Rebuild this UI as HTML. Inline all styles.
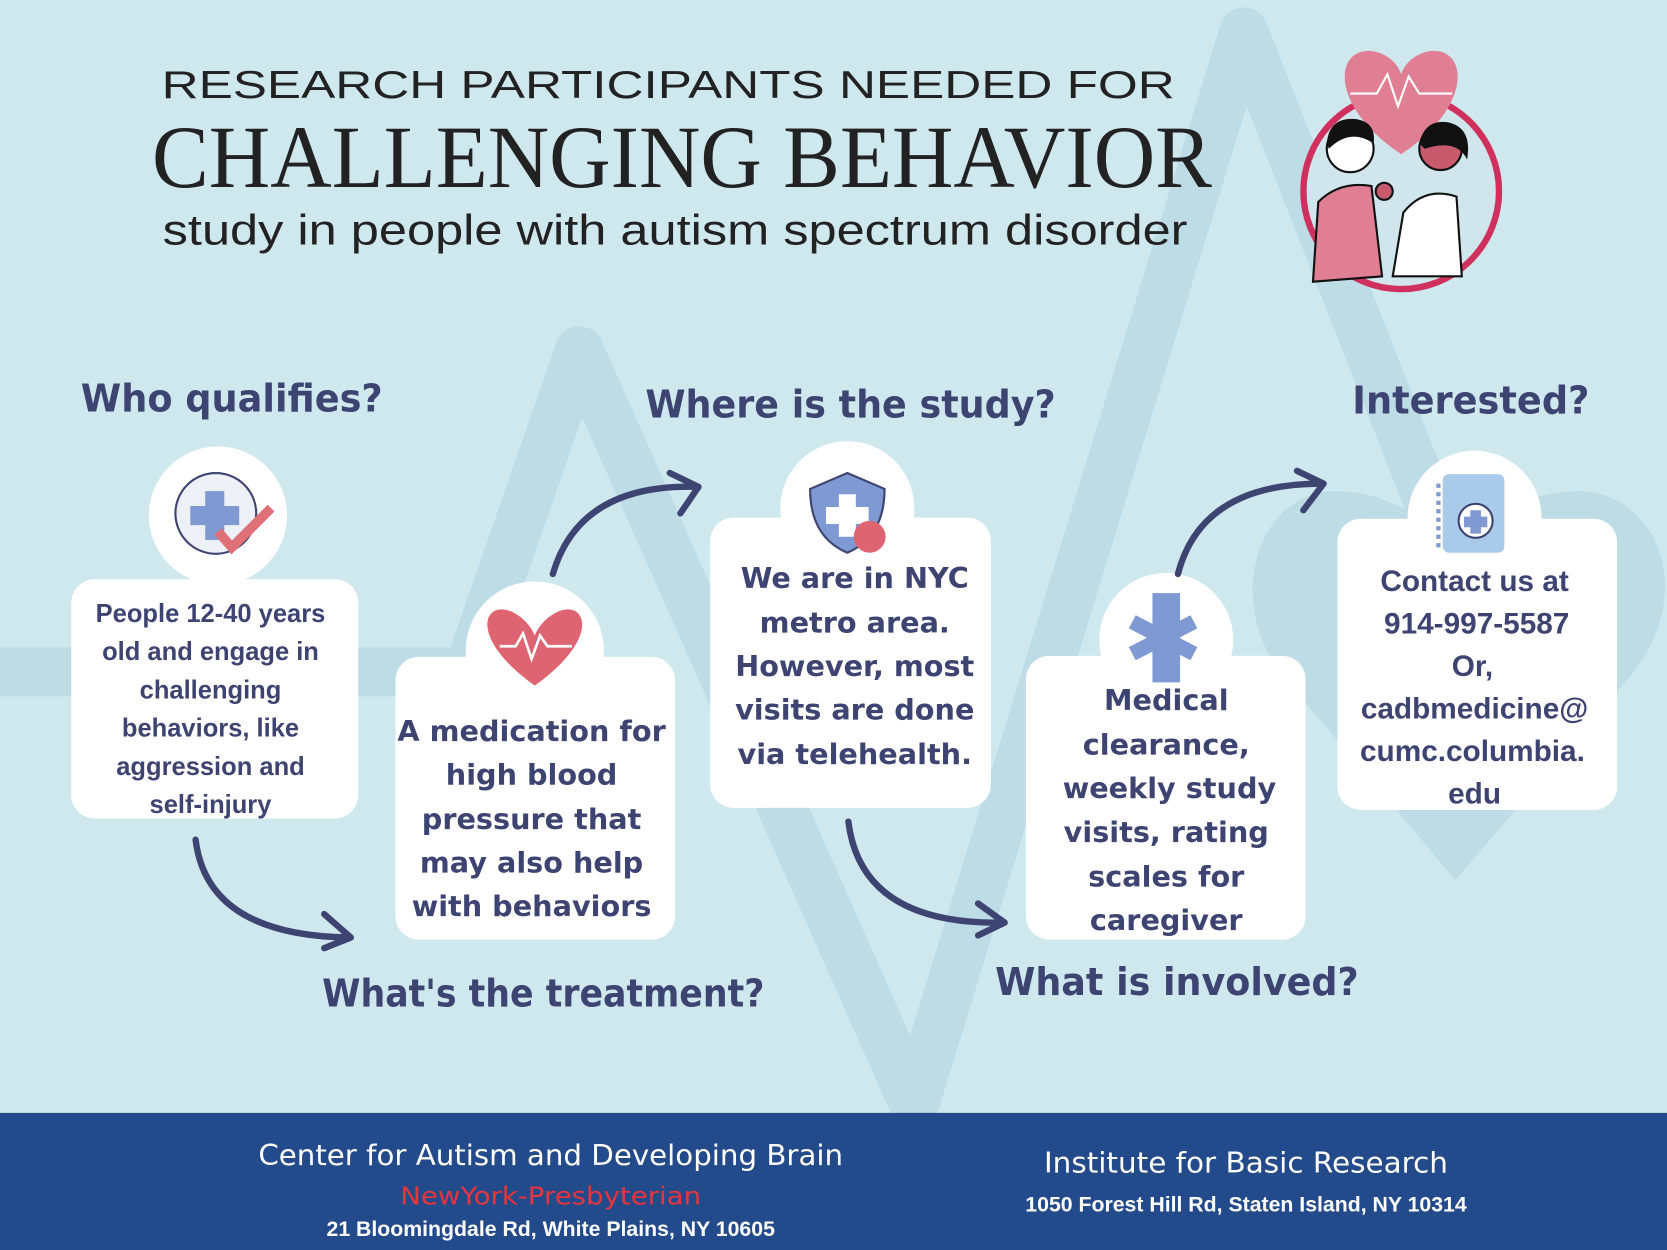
<!DOCTYPE html>
<html><head><meta charset="utf-8"><style>
html,body{margin:0;padding:0;background:#cfe8ee;}
svg{display:block}
</style></head><body>
<svg width="1667" height="1250" viewBox="0 0 1568 1176" preserveAspectRatio="none" xmlns="http://www.w3.org/2000/svg">
<rect width="1568" height="1176" fill="#cfe8ee"/>
<!-- background ECG -->
<g fill="none" stroke="#bddce6" stroke-width="46" stroke-linejoin="round" stroke-linecap="round">
<path d="M-20 632 L440 632 L545 330 L860 1040 L1170 30 L1370 540"/>
</g>
<path d="M1369 828 L1210 640 C1150 570 1180 460 1260 462 C1320 465 1355 500 1370 530 C1385 500 1420 465 1480 462 C1560 460 1600 560 1530 640 Z" fill="#bddce6"/>
<!-- header -->
<g font-family="Liberation Sans, sans-serif" fill="#222">
<text x="152" y="92" font-size="37" textLength="953" lengthAdjust="spacingAndGlyphs">RESEARCH PARTICIPANTS NEEDED FOR</text>
<text x="143" y="176" font-family="Liberation Serif, serif" font-size="84" textLength="997" lengthAdjust="spacingAndGlyphs">CHALLENGING BEHAVIOR</text>
<text x="153" y="230" font-size="40" textLength="964" lengthAdjust="spacingAndGlyphs">study in people with autism spectrum disorder</text>
</g>
<!-- illustration -->
<circle cx="1318" cy="180" r="92" fill="#d0e6ec" stroke="#d0305e" stroke-width="6"/>
<path d="M1318 145 C1250 100 1255 45 1290 48 C1305 50 1315 60 1318 70 C1321 60 1331 50 1346 48 C1381 45 1386 100 1318 145Z" fill="#e07f94"/>
<polyline points="1270,88 1295,88 1305,70 1315,100 1325,72 1335,88 1366,88" fill="none" stroke="#fff" stroke-width="2"/>
<path d="M1235 265 L1240 190 Q1260 170 1290 175 L1300 260 Z" fill="#e07f94" stroke="#111" stroke-width="2"/>
<circle cx="1270" cy="140" r="22" fill="#fff" stroke="#111" stroke-width="2"/>
<path d="M1248 135 Q1250 110 1275 112 Q1295 115 1292 135 Q1270 120 1250 140Z" fill="#111"/>
<path d="M1310 260 L1320 200 Q1340 175 1370 185 L1375 260Z" fill="#fff" stroke="#111" stroke-width="2"/>
<circle cx="1355" cy="140" r="20" fill="#c85a6e" stroke="#111" stroke-width="2"/>
<path d="M1335 135 Q1340 112 1362 115 Q1385 120 1380 150 Q1370 130 1340 140Z" fill="#111"/>
<circle cx="1302" cy="180" r="8" fill="#c85a6e" stroke="#111" stroke-width="2"/>
<!-- boxes -->
<g fill="#fff">
<rect x="67" y="545" width="270" height="225" rx="22"/><circle cx="205" cy="485" r="65"/>
<rect x="372" y="618" width="263" height="266" rx="22"/><circle cx="503" cy="612" r="65"/>
<rect x="668" y="487" width="264" height="273" rx="22"/><circle cx="797" cy="478" r="63"/>
<rect x="965" y="617" width="263" height="267" rx="22"/><circle cx="1097" cy="602" r="63"/>
<rect x="1258" y="488" width="263" height="274" rx="22"/><circle cx="1387" cy="487" r="63"/>
</g>
<!-- icons -->
<circle cx="203" cy="483" r="38" fill="#eef0f8" stroke="#3e4472" stroke-width="2"/>
<path d="M193 462h18v14h14v18h-14v14h-18v-14h-14v-18h14z" fill="#7f99d3"/>
<path d="M205 500 L218 515 L255 478" fill="none" stroke="#e07078" stroke-width="9"/>
<path d="M503 645 C440 600 455 565 480 575 C492 580 500 590 503 598 C506 590 514 580 526 575 C551 565 566 600 503 645Z" fill="#dd6470"/>
<polyline points="470,608 485,608 492,596 500,620 508,598 515,608 538,608" fill="none" stroke="#fff" stroke-width="2.5"/>
<path d="M797 445 L832 460 Q832 505 797 520 Q762 505 762 460Z" fill="#7f99d3" stroke="#3e4472" stroke-width="2"/>
<path d="M789 465h16v12h12v16h-12v12h-16v-12h-12v-16h12z" fill="#fff"/>
<circle cx="818" cy="505" r="15" fill="#dd6470"/>
<path d="M1091 565h12v70h-12z M1065 585l58 30 M1065 615l58-30" stroke="#7f99d3" stroke-width="14" fill="none"/>
<rect x="1357" y="446" width="58" height="74" rx="6" fill="#a9cbe9"/>
<path d="M1353 455v60" stroke="#7f99d3" stroke-width="4" stroke-dasharray="4 4"/>
<circle cx="1388" cy="490" r="16" fill="#fff" stroke="#3e4472" stroke-width="2"/>
<path d="M1383 480h10v6h6v10h-6v6h-10v-6h-6v-10h6z" fill="#7f99d3"/>
<!-- arrows -->
<g fill="none" stroke="#3e4472" stroke-width="6" stroke-linecap="round" stroke-linejoin="round">
<path d="M184 790 Q195 880 328 882"/><path d="M305 860 L330 882 L305 892"/>
<path d="M520 540 Q545 455 655 458"/><path d="M630 445 L657 458 L640 483"/>
<path d="M798 773 Q810 870 943 868"/><path d="M920 850 L945 868 L920 880"/>
<path d="M1108 540 Q1130 455 1243 455"/><path d="M1220 443 L1245 455 L1226 480"/>
</g>
<!-- headings -->
<g font-family="DejaVu Sans, sans-serif" font-weight="bold" fill="#3e4472">
<text x="76" y="387" font-size="36" textLength="284" lengthAdjust="spacingAndGlyphs">Who qualifies?</text>
<text x="607" y="393" font-size="36" textLength="386" lengthAdjust="spacingAndGlyphs">Where is the study?</text>
<text x="1272" y="389" font-size="36" textLength="223" lengthAdjust="spacingAndGlyphs">Interested?</text>
<text x="303" y="947" font-size="36" textLength="416" lengthAdjust="spacingAndGlyphs">What's the treatment?</text>
<text x="936" y="936" font-size="36" textLength="342" lengthAdjust="spacingAndGlyphs">What is involved?</text>
</g>
<g font-family="DejaVu Sans, sans-serif" font-weight="bold" fill="#3e4472" text-anchor="middle">
<g font-family="Liberation Sans, sans-serif" font-size="24">
<text x="198" y="585">People 12-40 years</text>
<text x="198" y="621">old and engage in</text>
<text x="198" y="657">challenging</text>
<text x="198" y="693">behaviors, like</text>
<text x="198" y="729">aggression and</text>
<text x="198" y="765">self-injury</text>
</g>
<g font-size="27">
<text x="500" y="697">A medication for</text>
<text x="500" y="738">high blood</text>
<text x="500" y="780">pressure that</text>
<text x="500" y="821">may also help</text>
<text x="500" y="862">with behaviors</text>
<text x="804" y="553">We are in NYC</text>
<text x="804" y="595">metro area.</text>
<text x="804" y="636">However, most</text>
<text x="804" y="677">visits are done</text>
<text x="804" y="719">via telehealth.</text>
<text x="1097" y="668">Medical</text>
<text x="1097" y="710">clearance,</text>
<text x="1100" y="751">weekly study</text>
<text x="1097" y="792">visits, rating</text>
<text x="1097" y="834">scales for</text>
<text x="1097" y="875">caregiver</text>
</g>
<g font-family="Liberation Sans, sans-serif" font-size="28">
<text x="1387" y="556">Contact us at</text>
<text x="1389" y="596">914-997-5587</text>
<text x="1385" y="636">Or,</text>
<text x="1387" y="676">cadbmedicine@</text>
<text x="1385" y="716">cumc.columbia.</text>
<text x="1387" y="756">edu</text>
</g>
</g>
<!-- footer -->
<rect x="0" y="1047" width="1568" height="129" fill="#234a8a"/>
<g font-family="DejaVu Sans, sans-serif" text-anchor="middle" fill="#fff">
<text x="518" y="1096" font-size="27" textLength="550" lengthAdjust="spacingAndGlyphs">Center for Autism and Developing Brain</text>
<text x="518" y="1133" font-size="23" fill="#e8343c" textLength="283" lengthAdjust="spacingAndGlyphs">NewYork-Presbyterian</text>
<text x="518" y="1163" font-family="Liberation Sans, sans-serif" font-weight="bold" font-size="20">21 Bloomingdale Rd, White Plains, NY 10605</text>
<text x="1172" y="1103" font-size="27" textLength="380" lengthAdjust="spacingAndGlyphs">Institute for Basic Research</text>
<text x="1172" y="1140" font-family="Liberation Sans, sans-serif" font-weight="bold" font-size="20">1050 Forest Hill Rd, Staten Island, NY 10314</text>
</g>
</svg>
</body></html>
